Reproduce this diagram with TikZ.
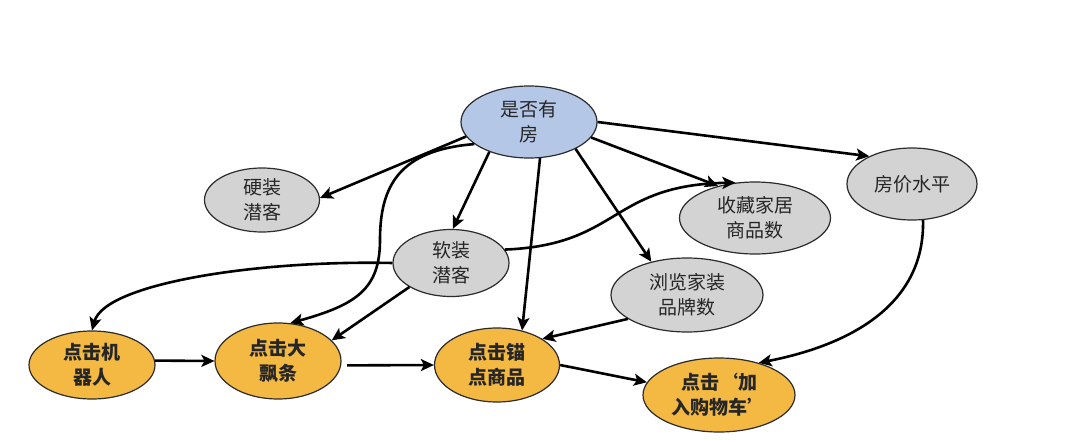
\documentclass[tikz,border=0pt]{standalone}
\usepackage{fontspec}
\setmainfont{Noto Sans CJK SC}
\usetikzlibrary{shapes.geometric,arrows.meta}
\definecolor{blueF}{HTML}{B4C7E7}
\definecolor{grayF}{HTML}{D3D3D3}
\definecolor{orangeF}{HTML}{F4B942}
\definecolor{edgeC}{HTML}{2B2B2B}
\tikzset{
  base/.style={ellipse, draw=edgeC, line width=1.2pt, inner sep=0pt, align=center,
    font=\fontsize{19}{25}\selectfont, text=black!85},
  bluenode/.style={base, fill=blueF},
  graynode/.style={base, fill=grayF},
  orangenode/.style={base, fill=orangeF, font=\fontsize{19}{25}\selectfont\bfseries},
  arr/.style={line width=2.6pt, -{Stealth[length=13pt,width=12pt,inset=3pt]}}
}
\begin{document}
\begin{tikzpicture}[x=1pt,y=-1pt]
\useasboundingbox (0,0) rectangle (1080,442);
\node[bluenode, minimum width=136pt, minimum height=72pt] (house) at (529,122) {是否有\\房};
\node[graynode, minimum width=115pt, minimum height=64pt] (hard) at (262,200) {硬装\\潜客};
\node[graynode, minimum width=116pt, minimum height=67pt] (soft) at (451,263) {软装\\潜客};
\node[graynode, minimum width=151pt, minimum height=72pt] (collect) at (755,218) {收藏家居\\商品数};
\node[graynode, minimum width=130pt, minimum height=72pt] (price) at (912,184) {房价水平};
\node[graynode, minimum width=152pt, minimum height=74pt] (browse) at (687,295) {浏览家装\\品牌数};
\node[orangenode, minimum width=126pt, minimum height=68pt] (robot) at (92,365) {点击机\\器人};
\node[orangenode, minimum width=126pt, minimum height=76pt] (banner) at (278,361) {点击大\\飘条};
\node[orangenode, minimum width=125pt, minimum height=74pt] (anchor) at (497,365) {点击锚\\点商品};
\node[orangenode, minimum width=152pt, minimum height=74pt] (cart) at (719,395) {点击‘加\\入购物车’};

% edges from house
\draw[arr] (house.193) -- (hard.2);
\draw[arr] (house.202) .. controls (400,150) and (380,185) .. (380,240)
  .. controls (380,290) and (355,305) .. (banner.72);
\draw[arr] (house.217) -- (soft.87);
\draw[arr] (house.287) -- (anchor.54);
\draw[arr] (house.330) -- (browse.137);
\draw[arr] (house.346) -- (collect.139);
\draw[arr] (house.0) -- (price.147);
% soft
\draw[arr] (soft.14) .. controls (620,245) and (610,185) .. (collect.119);
\draw[arr] (soft.180) .. controls (260,260) and (105,283) .. (robot.90);
\draw[arr] (soft.210) -- (banner.21);
% others
\draw[arr] (browse.202) -- (anchor.30);
\draw[arr] (price.287) .. controls (925,305) and (850,345) .. (cart.39);
\draw[arr] (robot.4) -- (banner.180);
\draw[arr, shorten <=6pt] (banner.-4) -- (anchor.180);
\draw[arr] (anchor.0) -- (cart.170);
\end{tikzpicture}
\end{document}
